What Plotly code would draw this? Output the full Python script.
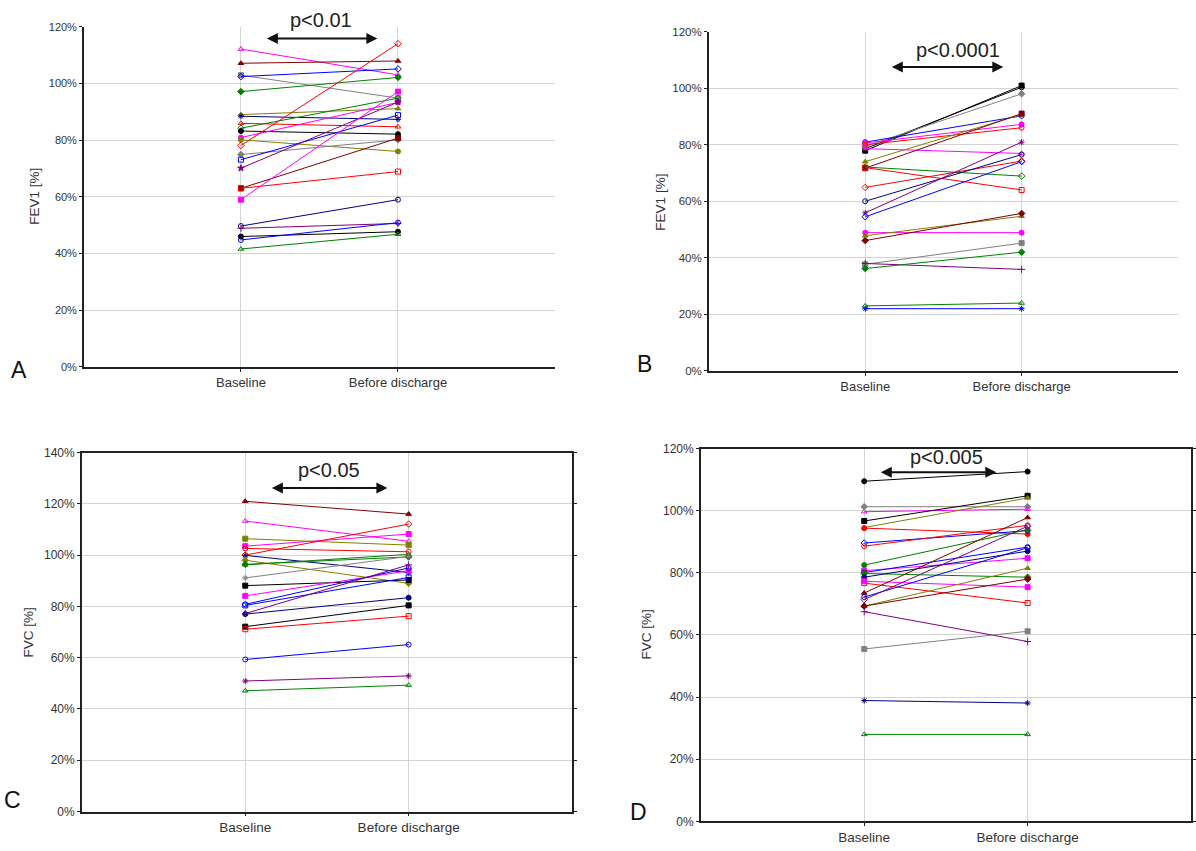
import plotly.graph_objects as go

W, H = 1196, 851

categories = ["Baseline", "Before discharge"]

# Panel A: FEV1 [%]
a_baseline = [112.1, 107.1, 102.9, 102.4, 97.1, 89.0, 88.4, 85.9, 84.2, 83.2, 80.9, 80.1,
              78.1, 74.9, 73.1, 70.1, 63.0, 63.0, 59.0, 49.7, 48.9, 46.0, 44.8, 41.6]
a_discharge = [103.0, 107.9, 94.8, 105.1, 102.1, 91.1, 87.3, 84.7, 94.8, 82.1, 93.3, 76.0,
               114.0, 80.1, 88.8, 93.4, 80.7, 68.9, 97.1, 59.0, 50.6, 47.7, 50.9, 46.8]

# Panel B: FEV1 [%]
b_baseline = [77.9, 78.6, 79.4, 80.9, 80.6, 80.0, 78.6, 74.0, 71.7, 72.1, 71.9, 64.9,
              60.0, 55.9, 54.5, 48.9, 47.8, 46.1, 37.7, 38.0, 36.2, 23.0, 22.0]
b_discharge = [100.9, 100.3, 98.0, 90.2, 87.2, 86.0, 76.9, 90.7, 91.0, 68.9, 64.0, 74.2,
               76.5, 80.9, 74.0, 48.9, 54.7, 55.7, 45.2, 35.9, 42.0, 24.0, 22.0]

# Panel C: FVC [%]
c_baseline = [121.0, 113.3, 106.4, 103.5, 102.6, 100.0, 99.9, 98.0, 96.4, 96.2, 91.1,
              88.1, 84.1, 80.4, 80.8, 77.0, 77.2, 72.1, 71.1, 59.3, 50.9, 47.1]
c_discharge = [116.0, 105.4, 103.9, 108.2, 101.3, 112.1, 93.2, 89.0, 99.3, 100.3, 99.5,
               90.3, 93.9, 91.3, 95.0, 83.4, 96.2, 80.4, 76.2, 65.1, 52.9, 49.3]

# Panel D: FVC [%]
d_baseline = [109.5, 101.3, 99.7, 96.7, 94.6, 94.4, 89.6, 88.6, 82.5, 80.7, 80.1, 79.8,
              78.6, 76.7, 77.3, 73.5, 72.2, 71.4, 69.3, 69.3, 67.5, 55.5, 38.9, 28.0]
d_discharge = [112.6, 101.3, 100.5, 104.8, 104.1, 92.5, 93.6, 95.3, 93.9, 84.7, 88.3, 78.6,
               87.0, 70.3, 75.4, 97.8, 88.1, 95.0, 81.5, 78.0, 57.9, 61.2, 38.1, 28.0]

y_ticks_120 = [0, 20, 40, 60, 80, 100, 120]
y_ticks_140 = [0, 20, 40, 60, 80, 100, 120, 140]
p_labels = ["p<0.01", "p<0.0001", "p<0.05", "p<0.005"]
panel_letters = ["A", "B", "C", "D"]
axis_titles = ["FEV1 [%]", "FEV1 [%]", "FVC [%]", "FVC [%]"]

# ---------- styles ----------
BL, RD, GR, MG = "#0000FF", "#FF0000", "#008000", "#FF00FF"
DR, OL, NV, PU = "#800000", "#808000", "#000080", "#800080"
GY, BK = "#808080", "#000000"

a_style = [(MG, "triangle-up-open"), (DR, "triangle-up"), (GY, "square"), (BL, "diamond-open"),
           (GR, "diamond"), (OL, "triangle-up"), (NV, "asterisk-open"), (RD, "triangle-up-open"),
           (GR, "diamond-open"), (BK, "circle"), (MG, "circle"), (OL, "circle"),
           (RD, "diamond-open"), (GY, "diamond"), (BL, "square-open"), (PU, "star"),
           (DR, "square"), (RD, "square-open"), (MG, "square"), (NV, "circle-open"),
           (PU, "cross-thin-open"), (BK, "circle"), (BL, "circle-open"), (GR, "triangle-up-open")]
b_style = [(BK, "square"), (BK, "circle-open"), (GY, "diamond"), (BL, "circle-open"),
           (MG, "circle"), (RD, "circle-open"), (MG, "triangle-up-open"), (OL, "triangle-up"),
           (DR, "square"), (GR, "diamond-open"), (RD, "square-open"), (RD, "diamond-open"),
           (NV, "circle-open"), (PU, "asterisk-open"), (BL, "diamond-open"), (MG, "circle"),
           (OL, "triangle-up"), (DR, "diamond"), (GY, "square"), (PU, "cross-thin-open"),
           (GR, "diamond"), (GR, "triangle-up-open"), (BL, "asterisk-open")]
c_style = [(DR, "triangle-up"), (MG, "triangle-up-open"), (OL, "square"), (MG, "square"),
           (RD, "circle-open"), (RD, "diamond-open"), (NV, "asterisk-open"), (OL, "diamond"),
           (GR, "diamond"), (GR, "triangle-up-open"), (GY, "asterisk-open"), (BK, "square"),
           (MG, "square"), (BL, "square-open"), (BL, "circle-open"), (NV, "circle"),
           (PU, "cross-thin-open"), (BK, "square"), (RD, "square-open"), (BL, "circle-open"),
           (PU, "asterisk-open"), (GR, "triangle-up-open")]
d_style = [(BK, "circle"), (GY, "diamond"), (MG, "triangle-up-open"), (BK, "square"),
           (OL, "triangle-up"), (RD, "circle"), (BL, "diamond-open"), (RD, "circle-open"),
           (GR, "circle"), (MG, "square"), (BL, "circle-open"), (GR, "diamond"),
           (NV, "circle"), (RD, "square-open"), (MG, "square"), (DR, "triangle-up"),
           (BL, "circle-open"), (PU, "diamond-open"), (OL, "triangle-up"), (DR, "diamond"),
           (PU, "cross-thin-open"), (GY, "square"), (NV, "asterisk-open"), (GR, "triangle-up-open")]

# pixel boxes of each plot area: left, right, top, bottom
boxes = [(84, 556, 20, 366), (710, 1180, 25, 370), (82, 573, 453, 818), (702, 1193, 449, 828)]
framed = [False, False, True, True]
yticks = [y_ticks_120, y_ticks_120, y_ticks_140, y_ticks_120]
ytick_size = [11, 11.5, 12, 12]
xtick_size = [13, 13, 13.5, 13.5]
title_pos = [(35, 192), (662, 198), (29, 636), (648, 638)]
letter_pos = [(19, 369), (646, 363), (12.5, 806), (640, 818)]
p_pos = [(322, 13), (960, 44), (330, 471), (948, 458)]
arrow_pos = [(266, 378, 32), (892, 1005, 61), (271, 388, 489), (881, 998, 473)]

panels = [(a_baseline, a_discharge, a_style), (b_baseline, b_discharge, b_style),
          (c_baseline, c_discharge, c_style), (d_baseline, d_discharge, d_style)]

FONT = "Liberation Sans, Arial, sans-serif"
GRID = "#d4d4d4"
px = lambda x: x / W
py = lambda y: 1 - y / H

fig = go.Figure()
layout = dict(width=W, height=H, margin=dict(l=0, r=0, t=0, b=0),
              paper_bgcolor="white", plot_bgcolor="white", showlegend=False,
              font=dict(family=FONT, color="#333333"))
annotations = []

for i, (base, dis, style) in enumerate(panels):
    k = "" if i == 0 else str(i + 1)
    for b, d, (col, sym) in zip(base, dis, style):
        fig.add_trace(go.Scatter(
            x=categories, y=[b, d], mode="lines+markers",
            xaxis="x" + k, yaxis="y" + k,
            line=dict(color=col, width=1),
            marker=dict(color=col, symbol=sym, size=5, line=dict(color=col, width=1)),
            hoverinfo="skip"))
    l, r, t, bt = boxes[i]
    ymax = yticks[i][-1]
    inner = [v for v in yticks[i] if 0 < v < ymax]
    layout["xaxis" + k] = dict(
        domain=[px(l), px(r)], anchor="y" + k, type="category", range=[-1, 2],
        showgrid=True, gridcolor=GRID, gridwidth=1,
        showline=True, linecolor="#222222", linewidth=1.5, mirror=framed[i],
        ticks="outside", ticklen=3, tickcolor="#222222",
        tickfont=dict(size=xtick_size[i], color="#333333"), zeroline=False, fixedrange=True)
    layout["yaxis" + k] = dict(
        domain=[py(bt), py(t)], anchor="x" + k, range=[0, ymax],
        tickvals=yticks[i], ticktext=[f"{v}%" for v in yticks[i]],
        showgrid=False,
        minor=dict(tickmode="array", tickvals=inner, showgrid=True, gridcolor=GRID,
                   gridwidth=1, ticks=""),
        showline=True, linecolor="#222222", linewidth=1.5, mirror="ticks" if framed[i] else False,
        ticks="outside", ticklen=3, tickcolor="#222222",
        tickfont=dict(size=ytick_size[i], color="#333333"), zeroline=False, fixedrange=True)

    tx, ty = title_pos[i]
    annotations.append(dict(xref="paper", yref="paper", x=px(tx), y=py(ty), text=axis_titles[i],
                            textangle=-90, showarrow=False, xanchor="center", yanchor="middle",
                            font=dict(size=13.5, color="#333333", family=FONT)))
    lx, ly = letter_pos[i]
    annotations.append(dict(xref="paper", yref="paper", x=px(lx), y=py(ly), text=panel_letters[i],
                            showarrow=False, xanchor="center", yanchor="middle",
                            font=dict(size=23, color="#111111", family=FONT)))
    ppx, ppy = p_pos[i]
    annotations.append(dict(xref="paper", yref="paper", x=px(ppx), y=py(ppy), text=p_labels[i],
                            showarrow=False, xanchor="center", yanchor="middle",
                            font=dict(size=20, color="#222222", family=FONT)))
    x0, x1, ay = arrow_pos[i]
    annotations.append(dict(xref="paper", yref="paper", x=px(x1), y=py(ay), ax=x0 - x1, ay=0,
                            text="", showarrow=True, arrowside="end+start", arrowhead=2,
                            arrowsize=1.1, arrowwidth=2, arrowcolor="#111111", standoff=0,
                            startstandoff=0))

layout["annotations"] = annotations
fig.update_layout(**layout)
fig.write_html("out.html", config={"displayModeBar": False},
               post_script="document.body.style.margin='0';")
